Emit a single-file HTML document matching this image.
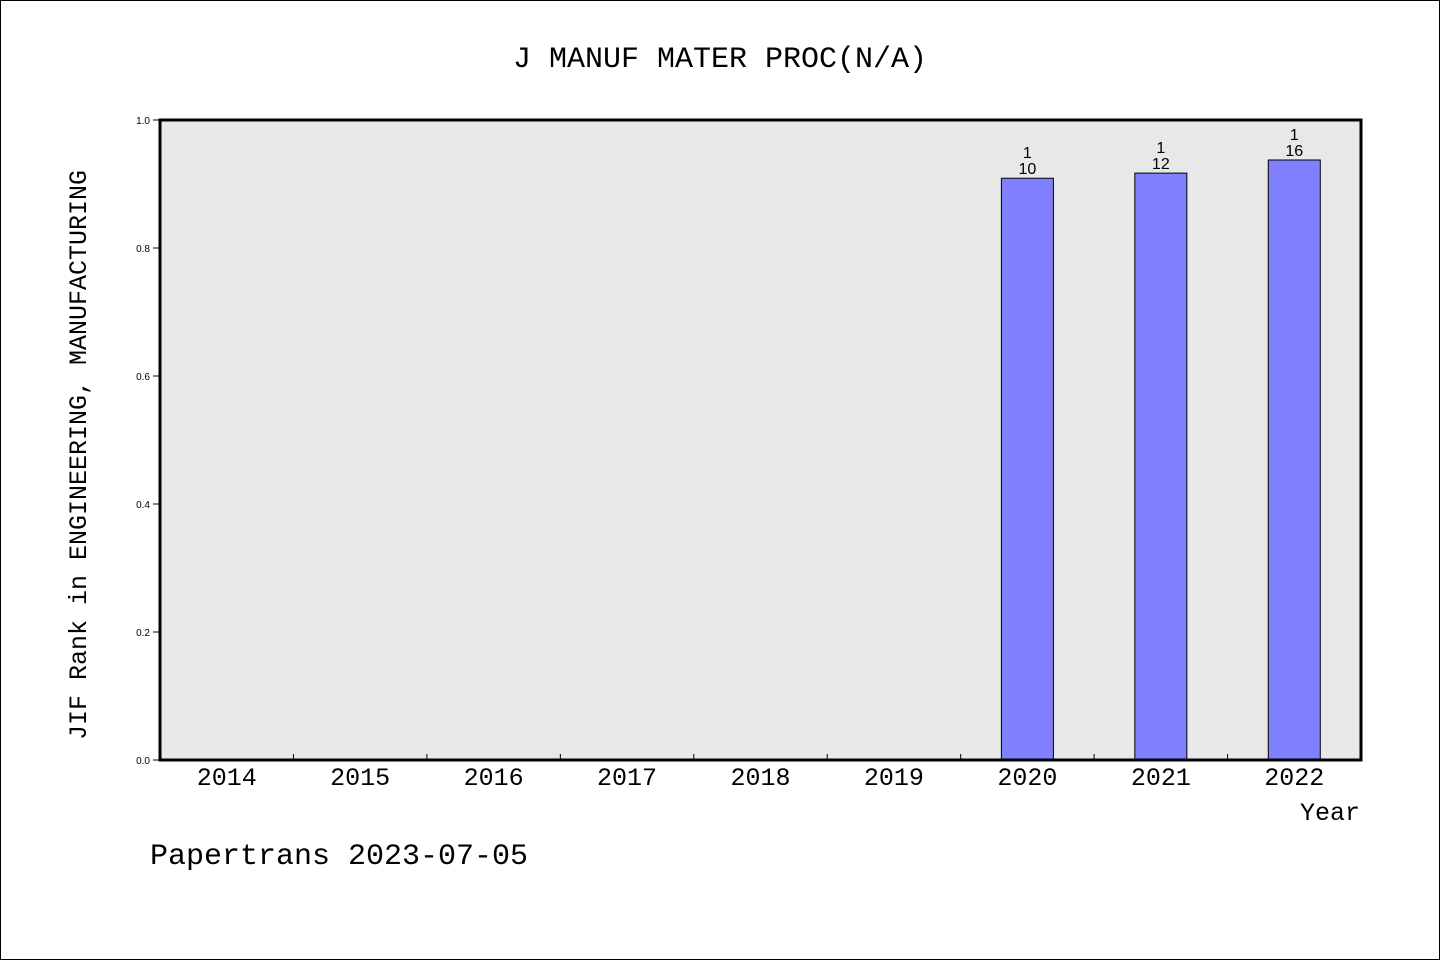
<!DOCTYPE html>
<html><head><meta charset="utf-8"><style>
body{margin:0;background:#fff}
svg{display:block;font-family:"Liberation Sans","DejaVu Sans",sans-serif}
</style></head><body>
<svg id="chart" width="1440" height="960" viewBox="0 0 1440 960" xmlns="http://www.w3.org/2000/svg">
<rect x="0.5" y="0.5" width="1439" height="959" fill="#fff" stroke="#000"/>
<text x="720" y="67" font-size="30" text-anchor="middle" font-family="Liberation Mono, monospace">J MANUF MATER PROC(N/A)</text>
<rect x="160" y="120" width="1201" height="640" fill="#e8e8e8"/>
<g id="marks"></g>
<rect x="160" y="120" width="1201" height="640" fill="none" stroke="#000" stroke-width="3"/>
<text transform="translate(86,455) rotate(-90)" font-size="25" text-anchor="middle" font-family="Liberation Mono, monospace">JIF Rank in ENGINEERING, MANUFACTURING</text>
<text x="1360" y="820" font-size="25" text-anchor="end" font-family="Liberation Mono, monospace">Year</text>
<text x="150" y="864" font-size="30" font-family="Liberation Mono, monospace">Papertrans 2023-07-05</text>
</svg>
<script>
const categories=["2014","2015","2016","2017","2018","2019","2020","2021","2022"];
const values=[null,null,null,null,null,null,0.909,0.917,0.9375];
const numerators=["","","","","","","1","1","1"];
const denominators=["","","","","","","10","12","16"];
const yTicks=[0,0.2,0.4,0.6,0.8,1.0];
const yTickLabels=["0.0","0.2","0.4","0.6","0.8","1.0"];
const NS="http://www.w3.org/2000/svg";
const X0=160,X1=1361,Y0=760,Y1=120;
const step=(X1-X0)/categories.length;
const xc=i=>X0+step*(i+0.5);
const y=v=>Y0-(v)*(Y0-Y1);
const g=document.getElementById('marks');
function mk(t,a){const e=document.createElementNS(NS,t);for(const k in a)e.setAttribute(k,a[k]);g.appendChild(e);return e;}
yTicks.forEach((v,i)=>{
  const l=mk('line',{x1:X0-7,x2:X0,y1:y(v),y2:y(v),stroke:'#000'});
  
  
  const t=mk('text',{x:X0-10,y:y(v)+4,'font-size':10,'text-anchor':'end'});
  t.textContent=yTickLabels[i];
  
  
});
categories.forEach((c,i)=>{
  if(i>0){const l=mk('line',{x1:X0+step*i,x2:X0+step*i,y1:Y0,y2:Y0-6,stroke:'#000'});
  
  }
  const t=mk('text',{x:xc(i),y:785,'font-size':25,'text-anchor':'middle','font-family':'Liberation Mono, monospace'});
  t.textContent=c;
  
  
  const v=values[i];
  if(v!=null){
    const r=mk('rect',{x:xc(i)-26,y:y(v),width:52,height:Y0-y(v),fill:'#8080ff',stroke:'#000'});
    
    
    const n=mk('text',{x:xc(i),y:y(v)-20,'font-size':16,'text-anchor':'middle'});
    n.textContent=numerators[i];
    
    
    const d=mk('text',{x:xc(i),y:y(v)-4,'font-size':16,'text-anchor':'middle'});
    d.textContent=denominators[i];
    
    
  }
});
</script>
</body></html>
